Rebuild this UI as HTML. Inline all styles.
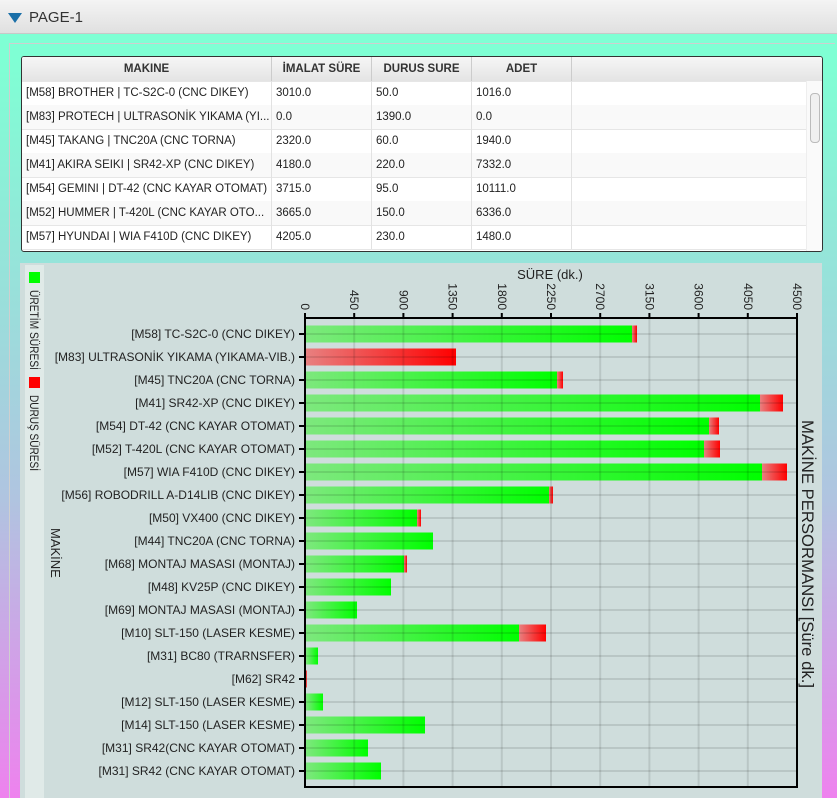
<!DOCTYPE html>
<html><head><meta charset="utf-8"><style>
html,body{margin:0;padding:0;width:837px;height:798px;overflow:hidden;font-family:"Liberation Sans","Noto Sans CJK JP",sans-serif;}
body{background:linear-gradient(to bottom,#7fffd4 0px,#7fffd4 60px,#b0c4e0 500px,#ee82ee 798px);position:relative;}
.hdr{position:absolute;left:0;top:0;width:837px;height:33px;background:linear-gradient(#f4f4f4,#e0e0e0);border-bottom:1px solid #c8c8c8;}
.hdr .t{position:absolute;left:29px;top:9px;font-size:15px;color:#333;}
.hdr .tri{position:absolute;left:8px;top:13px;width:0;height:0;border-left:7px solid transparent;border-right:7px solid transparent;border-top:10px solid #1a6fa8;}
.frame{position:absolute;left:9px;top:43px;width:825px;height:770px;border:1px solid #cfcfcf;border-right:none;}
.tbl{position:absolute;left:21px;top:56px;width:800px;height:194px;background:#fff;border:1px solid #333;border-radius:3px;overflow:hidden;font-size:11.5px;color:#222;}
.row{position:absolute;left:0;width:785px;height:24px;border-bottom:1px solid #e6e6e6;}
.c{position:absolute;top:0;height:24px;line-height:24px;padding-left:4px;border-right:1px solid #e2e2e2;box-sizing:border-box;white-space:nowrap;overflow:hidden;}
.h .c{font-weight:bold;text-align:center;padding:0;background:linear-gradient(#f6f6f6,#e4e4e4);border-right:1px solid #ccc;color:#333;}
.sb{position:absolute;right:0;top:24px;width:15px;height:170px;background:#fafafa;border-left:1px solid #eee;}
.sb .th{position:absolute;left:3px;top:12px;width:8px;height:48px;border:1px solid #bbb;border-radius:4px;background:#f0f0f0;}
.panel{position:absolute;left:20px;top:263px;width:802px;height:535px;background:#cfdddc;}
</style></head><body>
<div class="hdr"><div class="tri"></div><div class="t">PAGE-1</div></div>
<div class="frame"></div>
<div class="tbl">
 <div class="row h" style="top:0;width:800px;background:linear-gradient(#f6f6f6,#e4e4e4)">
  <div class="c" style="left:0;width:250px">MAKINE</div><div class="c" style="left:250px;width:100px">İMALAT SÜRE</div><div class="c" style="left:350px;width:100px">DURUS SURE</div><div class="c" style="left:450px;width:100px">ADET</div>
 </div>
 <div class="row" style="top:24px"><div class="c" style="left:0;width:250px">[M58] BROTHER | TC-S2C-0 (CNC DIKEY)</div><div class="c" style="left:250px;width:100px">3010.0</div><div class="c" style="left:350px;width:100px">50.0</div><div class="c" style="left:450px;width:100px">1016.0</div></div>
 <div class="row" style="top:48px;background:#f9f9f9"><div class="c" style="left:0;width:250px">[M83] PROTECH | ULTRASONİK YIKAMA (YI...</div><div class="c" style="left:250px;width:100px">0.0</div><div class="c" style="left:350px;width:100px">1390.0</div><div class="c" style="left:450px;width:100px">0.0</div></div>
 <div class="row" style="top:72px"><div class="c" style="left:0;width:250px">[M45] TAKANG | TNC20A (CNC TORNA)</div><div class="c" style="left:250px;width:100px">2320.0</div><div class="c" style="left:350px;width:100px">60.0</div><div class="c" style="left:450px;width:100px">1940.0</div></div>
 <div class="row" style="top:96px;background:#f9f9f9"><div class="c" style="left:0;width:250px">[M41] AKIRA SEIKI | SR42-XP (CNC DIKEY)</div><div class="c" style="left:250px;width:100px">4180.0</div><div class="c" style="left:350px;width:100px">220.0</div><div class="c" style="left:450px;width:100px">7332.0</div></div>
 <div class="row" style="top:120px"><div class="c" style="left:0;width:250px">[M54] GEMINI | DT-42 (CNC KAYAR OTOMAT)</div><div class="c" style="left:250px;width:100px">3715.0</div><div class="c" style="left:350px;width:100px">95.0</div><div class="c" style="left:450px;width:100px">10111.0</div></div>
 <div class="row" style="top:144px;background:#f9f9f9"><div class="c" style="left:0;width:250px">[M52] HUMMER | T-420L (CNC KAYAR OTO...</div><div class="c" style="left:250px;width:100px">3665.0</div><div class="c" style="left:350px;width:100px">150.0</div><div class="c" style="left:450px;width:100px">6336.0</div></div>
 <div class="row" style="top:168px"><div class="c" style="left:0;width:250px">[M57] HYUNDAI | WIA F410D (CNC DIKEY)</div><div class="c" style="left:250px;width:100px">4205.0</div><div class="c" style="left:350px;width:100px">230.0</div><div class="c" style="left:450px;width:100px">1480.0</div></div>
 <div class="sb"><div class="th"></div></div>
</div>
<div class="panel"></div>
<svg style="position:absolute;left:0;top:0" width="837" height="798" font-family="Liberation Sans, sans-serif">
<defs>
<linearGradient id="g" x1="0" x2="1" y1="0" y2="0"><stop offset="0" stop-color="#7de87d"/><stop offset="1" stop-color="#00ff00"/></linearGradient>
<linearGradient id="r" x1="0" x2="1" y1="0" y2="0"><stop offset="0" stop-color="#e88080"/><stop offset="1" stop-color="#ff0000"/></linearGradient>
</defs>
<rect x="25" y="265" width="19" height="533" fill="#e0eae8"/>
<rect x="29" y="272" width="11" height="11" fill="#00ff00"/>
<text transform="translate(30,290) rotate(90)" font-size="11.5" fill="#222" textLength="80" lengthAdjust="spacingAndGlyphs">ÜRETİM SÜRESİ</text>
<rect x="29" y="377" width="11" height="11" fill="#ff0000"/>
<text transform="translate(30,395) rotate(90)" font-size="11.5" fill="#222" textLength="76" lengthAdjust="spacingAndGlyphs">DURUŞ SÜRESİ</text>
<text transform="translate(51,528) rotate(90)" font-size="13" fill="#222">MAKİNE</text>
<text transform="translate(802,420) rotate(90)" font-size="17" fill="#222" textLength="268" lengthAdjust="spacingAndGlyphs">MAKİNE PERSORMANSI [Süre dk.]</text>
<text x="550" y="279" font-size="13" text-anchor="middle" fill="#222">SÜRE (dk.)</text>
<g id="bars"></g>
<g stroke="#000" stroke-opacity="0.1" stroke-width="2" id="grid"></g>
<rect x="305" y="318" width="492" height="469" fill="none" stroke="#000" stroke-width="2"/>
<g id="ax" font-size="12" fill="#222"></g>
</svg>
<script>
var ns="http://www.w3.org/2000/svg";
function el(p,t,a,txt){var e=document.createElementNS(ns,t);for(var k in a)e.setAttribute(k,a[k]);if(txt)e.textContent=txt;p.appendChild(e);return e;}
var L=305,S=492/4500,bars=document.getElementById('bars'),grid=document.getElementById('grid'),ax=document.getElementById('ax');
for(var i=0;i<=10;i++){var v=i*450,x=L+v*S;if(i>0&&i<10)el(grid,'line',{x1:x,x2:x,y1:318,y2:787});
el(ax,'line',{x1:x,x2:x,y1:313,y2:318,stroke:'#000','stroke-width':2});
el(ax,'text',{transform:'translate('+(x-4)+',310) rotate(90)','text-anchor':'end'},String(v));}
var d=[["[M58] TC-S2C-0 (CNC DIKEY)",632,637],["[M83] ULTRASONİK YIKAMA (YIKAMA-VIB.)",305,456],["[M45] TNC20A (CNC TORNA)",557,563],["[M41] SR42-XP (CNC DIKEY)",760,783],["[M54] DT-42 (CNC KAYAR OTOMAT)",709,719],["[M52] T-420L (CNC KAYAR OTOMAT)",704,720],["[M57] WIA F410D (CNC DIKEY)",762,787],["[M56] ROBODRILL A-D14LIB (CNC DIKEY)",549,553],["[M50] VX400 (CNC DIKEY)",417,421],["[M44] TNC20A (CNC TORNA)",433,433],["[M68] MONTAJ MASASI (MONTAJ)",404,407],["[M48] KV25P (CNC DIKEY)",391,391],["[M69] MONTAJ MASASI (MONTAJ)",357,357],["[M10] SLT-150 (LASER KESME)",519,546],["[M31] BC80 (TRARNSFER)",318,318],["[M62] SR42",305,307],["[M12] SLT-150 (LASER KESME)",323,323],["[M14] SLT-150 (LASER KESME)",425,425],["[M31] SR42(CNC KAYAR OTOMAT)",368,368],["[M31] SR42 (CNC KAYAR OTOMAT)",381,381]];
d.forEach(function(r,i){var y=334+i*23;
 el(grid,'line',{x1:306,x2:796,y1:y,y2:y});
 if(r[1]>L)el(bars,'rect',{x:306,y:y-8.5,width:r[1]-306,height:17,fill:'url(#g)'});
 if(r[2]>r[1])el(bars,'rect',{x:Math.max(r[1],306),y:y-8.5,width:r[2]-Math.max(r[1],306),height:17,fill:'url(#r)'});
 el(ax,'line',{x1:299,x2:305,y1:y,y2:y,stroke:'#000','stroke-width':2});
 el(ax,'text',{x:295,y:y+4,'text-anchor':'end','font-size':'12'},r[0]);
});
</script>
</body></html>
